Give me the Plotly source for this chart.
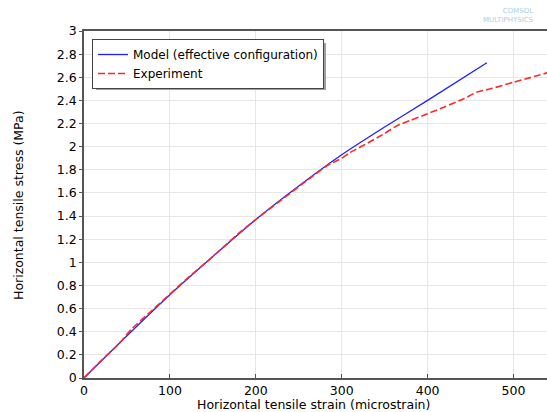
import plotly.graph_objects as go

model_strain = [0, 50, 100, 150, 200, 250, 300, 350, 400, 469]
model_stress = [0, 0.365, 0.72, 1.05, 1.37, 1.66, 1.93, 2.17, 2.40, 2.725]

exp_strain = [0, 20, 40, 55, 80, 100, 120, 150, 180, 200, 230, 260, 280, 287, 300, 310,
              325, 349, 364, 380, 400, 419, 442, 457, 473, 500, 540]
exp_stress = [0, 0.15, 0.29, 0.42, 0.59, 0.725, 0.86, 1.05, 1.25, 1.37, 1.54, 1.71, 1.82,
              1.853, 1.90, 1.95, 2.01, 2.11, 2.18, 2.227, 2.285, 2.341, 2.414, 2.47, 2.50,
              2.557, 2.64]

x_ticks = [0, 100, 200, 300, 400, 500]
y_ticks = [0, 0.2, 0.4, 0.6, 0.8, 1, 1.2, 1.4, 1.6, 1.8, 2, 2.2, 2.4, 2.6, 2.8, 3]

FONT = "DejaVu Sans"
PW, PH = 463, 347  # plot area size in px


def px_x(px):
    return (px - 84) / PW


def px_y(py):
    return (378 - py) / PH


fig = go.Figure()
fig.add_trace(go.Scatter(x=model_strain, y=model_stress, mode="lines",
                         name="Model (effective configuration)",
                         line=dict(color="rgb(30,30,255)", width=1.3,
                                   shape="spline", smoothing=0.8)))
fig.add_trace(go.Scatter(x=exp_strain, y=exp_stress, mode="lines",
                         name="Experiment",
                         line=dict(color="rgb(255,40,40)", width=1.6, dash="7px,3px",
                                   shape="spline", smoothing=0.6)))

fig.update_layout(
    width=547, height=412,
    margin=dict(l=84, r=0, t=31, b=34),
    paper_bgcolor="white", plot_bgcolor="white",
    font=dict(family=FONT, size=12.5, color="black"),
    showlegend=True,
    legend=dict(x=px_x(92), y=px_y(39), xanchor="left", yanchor="top",
                bgcolor="white", bordercolor="#444", borderwidth=1,
                font=dict(family=FONT, size=12, color="black"),
                tracegroupgap=0, itemwidth=30),
    xaxis=dict(range=[0, 539], tickvals=x_ticks, ticktext=[str(v) for v in x_ticks],
               showgrid=True, gridcolor="#e6e6e6", gridwidth=1,
               showline=True, linecolor="#555", linewidth=1.5, mirror=True,
               ticks="inside", ticklen=4, tickcolor="#555",
               zeroline=False, automargin=False),
    yaxis=dict(range=[0, 3], tickvals=y_ticks,
               ticktext=[f"{v:g}" for v in y_ticks],
               showgrid=True, gridcolor="#e6e6e6", gridwidth=1,
               showline=True, linecolor="#555", linewidth=1.5,
               ticks="outside", ticklen=3, tickcolor="#555",
               zeroline=False, automargin=False),
    shapes=[
        dict(type="rect", xref="paper", yref="paper",
             x0=px_x(96), x1=px_x(326), y0=px_y(43), y1=px_y(90),
             fillcolor="#a0a0a0", line=dict(width=0), layer="above"),
    ],
    annotations=[
        dict(text="Horizontal tensile strain (microstrain)", x=px_x(313), y=px_y(404),
             xref="paper", yref="paper", showarrow=False, xanchor="center",
             yanchor="middle", font=dict(family=FONT, size=12.5)),
        dict(text="Horizontal tensile stress (MPa)", x=px_x(18), y=px_y(205),
             xref="paper", yref="paper", showarrow=False, textangle=-90,
             xanchor="center", yanchor="middle", font=dict(family=FONT, size=12.5)),
        dict(text="COMSOL<br>MULTIPHYSICS", x=px_x(536), y=px_y(15), xref="paper",
             yref="paper", showarrow=False, xanchor="right", yanchor="middle",
             align="right", font=dict(family=FONT, size=7, color="#a9cfe3")),
    ],
)

fig.write_html("out.html")
